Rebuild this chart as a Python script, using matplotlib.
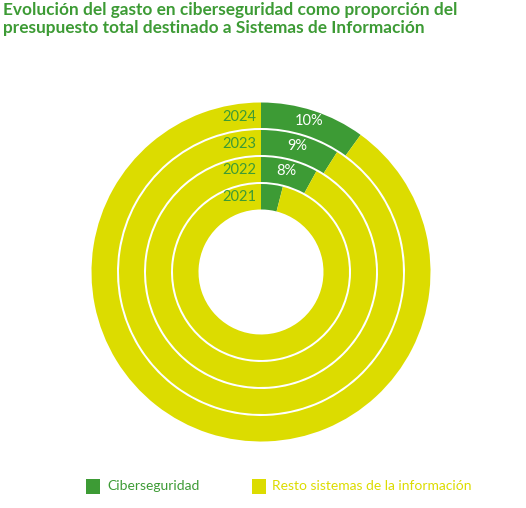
import matplotlib
matplotlib.use("Agg")
import matplotlib.pyplot as plt
from matplotlib.patches import Rectangle
import numpy as np

# Data
years = ["2024", "2023", "2022", "2021"]
ciber = [10, 9, 8, 4]
pct_labels = ["10%", "9%", "8%", ""]
legend_labels = ["Ciberseguridad", "Resto sistemas de la información"]
title = "Evolución del gasto en ciberseguridad como proporción del\npresupuesto total destinado a Sistemas de Información"

GREEN = "#3d9b35"
YELLOW = "#dcdc00"

W, H = 526, 508
fig = plt.figure(figsize=(W / 100, H / 100), dpi=100)
ax = fig.add_axes([0, 0, 1, 1])

cx, cy = 261, H - 272
bounds = [169.5, 143, 116, 89, 62.5]
gap = 1.0

for k, (yr, v, lab) in enumerate(zip(years, ciber, pct_labels)):
    outer = bounds[k] - (gap if k > 0 else 0)
    inner = bounds[k + 1] + (gap if k < len(years) - 1 else 0)
    ax.pie([v, 100 - v], radius=outer, center=(cx, cy), startangle=90,
           counterclock=False, colors=[GREEN, YELLOW],
           wedgeprops=dict(width=outer - inner, linewidth=0, antialiased=True))
    rmid = (bounds[k] + bounds[k + 1]) / 2
    ax.text(cx - 5, cy + rmid - 1, yr, ha="right", va="center",
            color=GREEN, fontsize=10.5, family="Lato")
    if lab:
        ang = np.deg2rad(90 - 360 * v / 100 / 2)
        ax.text(cx + rmid * np.cos(ang), cy + rmid * np.sin(ang) + 2, lab,
                ha="center", va="center", color="white", fontsize=10.5,
                family="Lato")

ax.set_xlim(0, W)
ax.set_ylim(0, H)
ax.set_aspect("equal")
ax.axis("off")

fig.text(3 / W, 1 - 2 / H, title, ha="left", va="top", color=GREEN,
         fontsize=12.4, fontweight="bold", family="Lato", linespacing=1.12)

# Legend
for x0, col, lab in [(86, GREEN, legend_labels[0]), (251.5, YELLOW, legend_labels[1])]:
    ax.add_patch(Rectangle((x0, H - 493.5), 14, 14.5, facecolor=col,
                           edgecolor="none"))
    ax.text(x0 + 21, H - 486.5, lab, ha="left", va="center", color=col,
            fontsize=10, family="Lato")

fig.savefig("out.png", dpi=100)
